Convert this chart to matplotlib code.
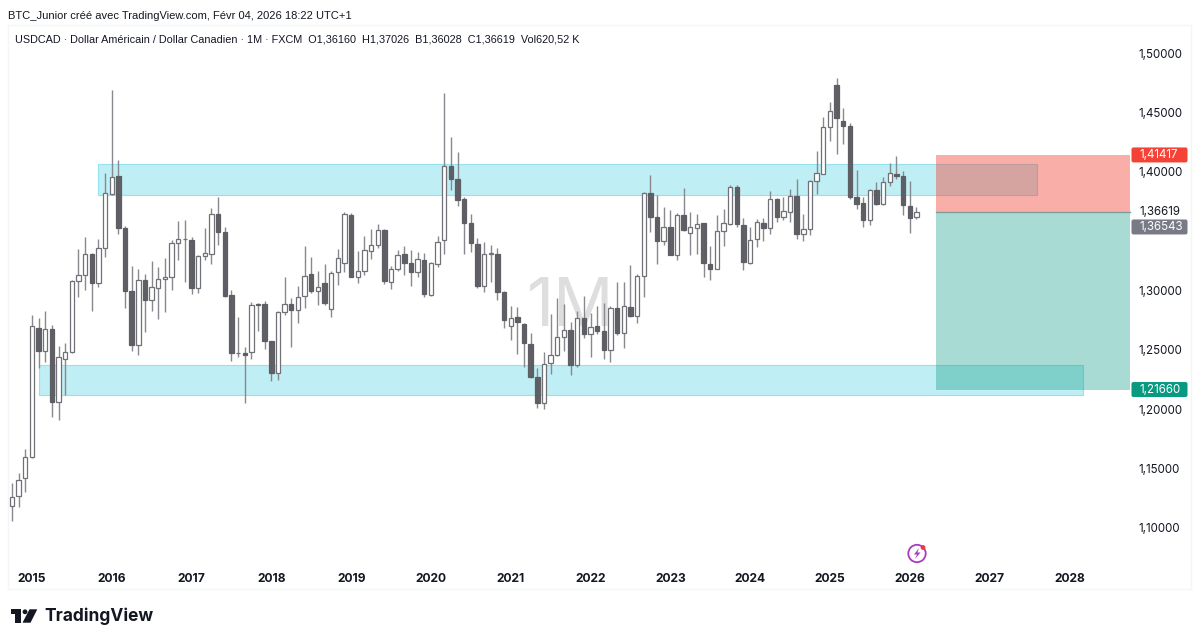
#!/usr/bin/env python3
"""USDCAD monthly candles with supply/demand zones and a short position box."""
import numpy as np
import matplotlib; matplotlib.use("Agg")
import matplotlib.pyplot as plt
from matplotlib.patches import Rectangle, Circle, Polygon, FancyBboxPatch

W, H = 1200, 643

# monthly candles, first one is Oct 2014
opens = [1.1186,1.1270,1.1421,1.1601,1.2685,1.2494,1.2673,1.2064,1.2426,1.2480,
         1.3083,1.3131,1.3308,1.3066,1.3361,1.3810,1.3962,1.3527,1.2996,1.2541,
         1.3086,1.2920,1.3024,1.3097,1.3111,1.3403,1.3431,1.3426,1.3019,1.3294,
         1.3305,1.3647,1.3490,1.2960,1.2471,1.2471,1.2480,1.2887,1.2887,1.2572,
         1.2306,1.2822,1.2887,1.2836,1.2954,1.3142,1.2996,1.3061,1.2842,1.3153,
         1.3229,1.3639,1.3117,1.3167,1.3336,1.3381,1.3510,1.3069,1.3184,1.3308,
         1.3232,1.3159,1.3260,1.2962,1.3226,1.3428,1.4052,1.3939,1.3768,1.3569,
         1.3392,1.3035,1.3311,1.3308,1.2988,1.2704,1.2777,1.2718,1.2553,1.2275,
         1.2050,1.2387,1.2457,1.2609,1.2665,1.2373,1.2768,1.2633,1.2697,1.2661,
         1.2495,1.2849,1.2638,1.2863,1.2784,1.3121,1.3817,1.3615,1.3416,1.3531,
         1.3295,1.3638,1.3483,1.3525,1.3565,1.3222,1.3180,1.3503,1.3556,1.3868,
         1.3554,1.3234,1.3430,1.3570,1.3528,1.3770,1.3618,1.3663,1.3798,1.3475,
         1.3517,1.3924,1.3983,1.4376,1.4730,1.4429,1.4382,1.3789,1.3733,1.3593,
         1.3845,1.3725,1.3913,1.3983,1.3963,1.3714,1.3616]
highs = [1.1377,1.1461,1.1663,1.2791,1.2766,1.2831,1.2710,1.2533,1.2555,1.3089,
         1.3347,1.3448,1.3313,1.3431,1.3993,1.4689,1.4099,1.3544,1.3207,1.3179,
         1.3139,1.3246,1.3195,1.3274,1.3426,1.3583,1.3594,1.3454,1.3302,1.3529,
         1.3692,1.3785,1.3538,1.3005,1.2774,1.2522,1.2906,1.2898,1.2912,1.2578,
         1.2831,1.3117,1.2934,1.3038,1.3378,1.3280,1.3167,1.3221,1.3165,1.3353,
         1.3661,1.3650,1.3330,1.3459,1.3515,1.3558,1.3518,1.3207,1.3341,1.3375,
         1.3341,1.3322,1.3316,1.3243,1.3459,1.4661,1.4293,1.4169,1.3791,1.3642,
         1.3445,1.3412,1.3381,1.3361,1.2999,1.2873,1.2861,1.2729,1.2645,1.2345,
         1.2480,1.2800,1.2940,1.2889,1.2732,1.2831,1.2953,1.2807,1.2866,1.2897,
         1.2871,1.3071,1.3071,1.3217,1.3138,1.3831,1.3969,1.3801,1.3700,1.3677,
         1.3655,1.3860,1.3663,1.3646,1.3570,1.3377,1.3635,1.3688,1.3885,1.3890,
         1.3612,1.3531,1.3598,1.3607,1.3837,1.3775,1.3787,1.3857,1.3941,1.3641,
         1.3930,1.4174,1.4463,1.4587,1.4786,1.4536,1.4407,1.4014,1.3789,1.3851,
         1.3916,1.3952,1.4076,1.4135,1.4008,1.3921,1.37026]
lows = [1.1062,1.1180,1.1306,1.1590,1.2348,1.2401,1.1938,1.1910,1.2120,1.2471,
        1.2948,1.3005,1.2831,1.3033,1.3285,1.3805,1.3476,1.2853,1.2494,1.2454,
        1.2654,1.2828,1.2758,1.2819,1.3005,1.3257,1.3075,1.2968,1.2977,1.3257,
        1.3221,1.3384,1.2943,1.2409,1.2438,1.2056,1.2426,1.2662,1.2511,1.2241,
        1.2247,1.2797,1.2522,1.2724,1.2853,1.2977,1.2881,1.2881,1.2780,1.3047,
        1.3159,1.3115,1.3061,1.3128,1.3266,1.3355,1.3055,1.3013,1.3167,1.3131,
        1.3038,1.3111,1.2948,1.2957,1.3195,1.3311,1.3847,1.3712,1.3311,1.3327,
        1.3019,1.2991,1.3075,1.2920,1.2685,1.2584,1.2463,1.2359,1.2265,1.2008,
        1.2000,1.2300,1.2450,1.2491,1.2286,1.2353,1.2602,1.2442,1.2633,1.2422,
        1.2394,1.2624,1.2512,1.2780,1.2723,1.2947,1.3495,1.3220,1.3380,1.3295,
        1.3256,1.3505,1.3295,1.3307,1.3110,1.3088,1.3178,1.3374,1.3554,1.3537,
        1.3172,1.3222,1.3363,1.3413,1.3475,1.3579,1.3593,1.3579,1.3436,1.3413,
        1.3467,1.3812,1.3980,1.4258,1.4149,1.4233,1.3767,1.3683,1.3537,1.3551,
        1.3719,1.3722,1.3882,1.3938,1.3638,1.3481,1.36028]
closes = [1.1259,1.1405,1.1601,1.2704,1.2488,1.2673,1.2064,1.2438,1.2480,1.3078,
          1.3128,1.3308,1.3066,1.3355,1.3819,1.3959,1.3529,1.2996,1.2541,1.3086,
          1.2920,1.3033,1.3094,1.3117,1.3398,1.3431,1.3437,1.3019,1.3291,1.3313,
          1.3645,1.3490,1.2957,1.2474,1.2477,1.2460,1.2881,1.2878,1.2578,1.2308,
          1.2819,1.2887,1.2836,1.2948,1.3125,1.2996,1.3033,1.2898,1.3151,1.3277,
          1.3642,1.3117,1.3162,1.3339,1.3381,1.3510,1.3078,1.3184,1.3299,1.3235,
          1.3159,1.3266,1.2968,1.3229,1.3406,1.4052,1.3942,1.3762,1.3572,1.3403,
          1.3041,1.3311,1.3316,1.2991,1.2752,1.2766,1.2738,1.2558,1.2269,1.2050,
          1.2381,1.2457,1.2606,1.2665,1.2373,1.2769,1.2633,1.2695,1.2661,1.2495,
          1.2849,1.2638,1.2866,1.2784,1.3121,1.3817,1.3621,1.3416,1.3531,1.3298,
          1.3638,1.3509,1.3531,1.3562,1.3234,1.3183,1.3500,1.3568,1.3868,1.3556,
          1.3236,1.3424,1.3573,1.3528,1.3770,1.3618,1.3666,1.3798,1.3475,1.3514,
          1.3921,1.3991,1.4373,1.4514,1.4455,1.4382,1.3789,1.3725,1.3593,1.3845,
          1.3725,1.3916,1.3991,1.3963,1.3716,1.3612,1.36619]

year_labels = list(range(2015, 2029))
year_pos = [3 + 12*k for k in range(len(year_labels))]
price_ticks = [1.10, 1.15, 1.20, 1.25, 1.30, 1.40, 1.45, 1.50]

upper_zone = (1.3807, 1.4066); upper_span = (12.9, 154.1)
lower_zone = (1.2120, 1.2376); lower_span = (4.0, 161.0)
stop, entry, target, last = 1.41417, 1.36619, 1.21660, 1.36543
pos_span = (139.0, 168.2)

C_UP = "#ffffff"; C_DOWN = "#5c5d62"; C_EDGE = "#707176"; C_WICK = "#88898e"
C_ZONE = "#00bcd4"; C_RED = "#f43e30"; C_GREEN = "#089981"; C_GREY = "#787b86"
FONT = ["Liberation Sans", "DejaVu Sans"]
INTER = ["Inter", "DejaVu Sans"]

fig = plt.figure(figsize=(W/100, H/100), dpi=100)
# frame runs x 8..1191, y 25..589 in pixels
ax = fig.add_axes([8/W, 1-589/H, (1191-8)/W, (589-25)/H])
ax.set_xlim(-0.6, 177.3); ax.set_ylim(1.0486, 1.5236)
for s in ax.spines.values(): s.set_color("#f4f5f8"); s.set_linewidth(1)

ax.text(84.0, 1.2845, "1M", color="#dedede", fontsize=48, family=INTER, ha="center", va="center", zorder=0.5)

# zones under the candles
for (lo, hi), (x0, x1) in ((upper_zone, upper_span), (lower_zone, lower_span)):
    ax.add_patch(Rectangle((x0, lo), x1-x0, hi-lo, facecolor=C_ZONE, alpha=0.25, lw=0, zorder=1))
    ax.add_patch(Rectangle((x0, lo), x1-x0, hi-lo, fill=False, edgecolor="#93e3ee", lw=0.8, zorder=1))

xs = np.arange(len(opens))
o = np.array(opens); h = np.array(highs); l = np.array(lows); c = np.array(closes)
up = c >= o
ax.vlines(xs, l, h, color=C_WICK, lw=1.0, zorder=2)
ax.bar(xs[up], (c-o)[up], bottom=o[up], width=0.66, facecolor=C_UP, edgecolor=C_EDGE, lw=0.9, zorder=3)
ax.bar(xs[~up], (c-o)[~up], bottom=o[~up], width=0.66, facecolor=C_DOWN, edgecolor=C_DOWN, lw=0.9, alpha=0.97, zorder=3)

# short position box
ax.add_patch(Rectangle((pos_span[0], entry), pos_span[1]-pos_span[0], stop-entry, facecolor=C_RED, alpha=0.42, lw=0, zorder=4))
ax.add_patch(Rectangle((pos_span[0], target), pos_span[1]-pos_span[0], entry-target, facecolor=C_GREEN, alpha=0.35, lw=0, zorder=4))
ax.plot(pos_span, [entry, entry], color="#7f9c98", lw=1, zorder=5)

ax.set_xticks(year_pos); ax.set_xticklabels(year_labels)
ax.set_yticks(price_ticks); ax.set_yticklabels([f"{p:.5f}".replace(".", ",") for p in price_ticks])
ax.yaxis.tick_right()
ax.tick_params(axis="x", length=0, pad=-11.5, labelsize=8.7, labelcolor="#131722")
ax.tick_params(axis="y", length=0, pad=-37.5, labelsize=8.3, labelcolor="#131722")
for t in ax.get_xticklabels(): t.set_fontfamily(INTER); t.set_fontweight("bold")
for t in ax.get_yticklabels(): t.set_fontfamily(INTER)

# overlay in pixels for header, logo, price tags and the small icon
ov = fig.add_axes([0, 0, 1, 1]); ov.set_xlim(0, W); ov.set_ylim(H, 0); ov.axis("off"); ov.patch.set_alpha(0)
def to_py(p): return H - ax.transData.transform((0, p))[1]

# grey tag is pushed below the close label as on the chart
for y, txt, col in ((stop, "1,41417", "#f44336"), (1.3535, "1,36543", C_GREY), (target, "1,21660", C_GREEN)):
    py = to_py(y)
    ov.add_patch(FancyBboxPatch((1133.5, py-5.5), 52, 11, boxstyle="round,pad=2,rounding_size=2", facecolor=col, edgecolor="none"))
    ov.text(1139.3, py, txt, color="white", fontsize=8.3, family=INTER, ha="left", va="center")
ov.text(1139.3, to_py(entry), "1,36619", color="#131722", fontsize=8.3, family=INTER, ha="left", va="center")

ov.text(8, 16, "BTC_Junior créé avec TradingView.com, Févr 04, 2026 18:22 UTC+1", fontsize=8.05, family=FONT, color="#131722", va="center")
ov.text(15, 40, "USDCAD · Dollar Américain / Dollar Canadien · 1M · FXCM  O1,36160  H1,37026  B1,36028  C1,36619  Vol620,52 K",
        fontsize=7.85, family=FONT, color="#131722", va="center")

ov.add_patch(Polygon([(10.7,609.3),(20.7,609.3),(20.7,622.7),(15.3,622.7),(15.3,613.6),(10.7,613.6)], color="#131722", lw=0))
ov.add_patch(Circle((25,611.8), 2.4, color="#131722", lw=0))
ov.add_patch(Polygon([(29.5,609.3),(37.3,609.3),(30.5,622.7),(22.5,622.7)], color="#131722", lw=0))
ov.text(44.5, 616, "TradingView", fontsize=12.5, family=INTER, weight="bold", color="#131722", va="center")

ov.add_patch(Circle((917,553.5), 8.7, fill=False, edgecolor="#a83cbf", lw=1.3))
ov.add_patch(Polygon([(919,548),(914,554.5),(917,554.5),(915,559),(920.5,552.5),(917.5,552.5)], color="#a83cbf", lw=0))
ov.add_patch(Circle((923,547.5), 2.4, color="#f23645", lw=0))

fig.savefig("out.png", dpi=100)
